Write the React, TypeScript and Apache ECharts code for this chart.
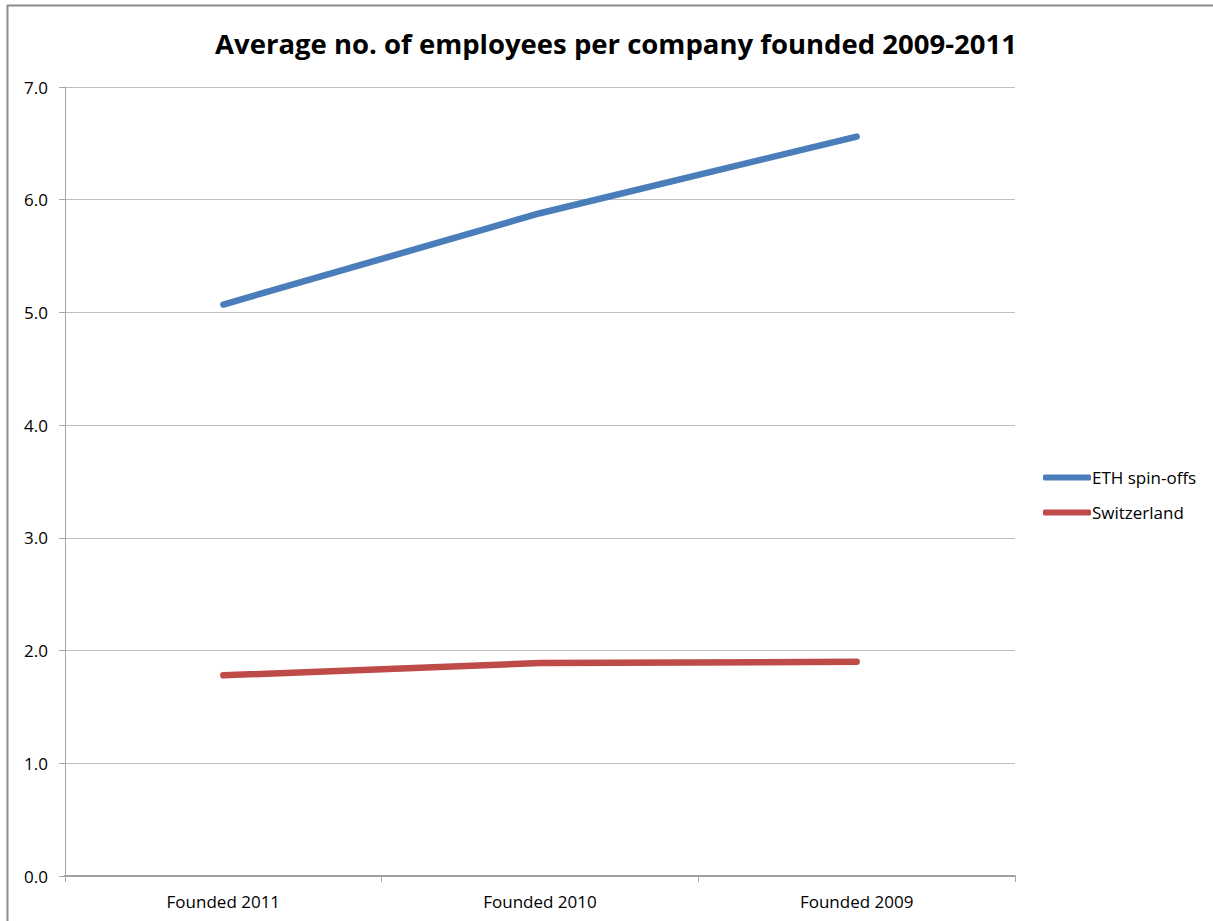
import React, { useEffect, useRef } from "react";
import * as echarts from "echarts";

const title = "Average no. of employees per company founded 2009-2011";
const categories = ["Founded 2011", "Founded 2010", "Founded 2009"];
const ethSpinOffs = [5.07, 5.88, 6.56];
const switzerland = [1.78, 1.89, 1.9];
const seriesNames = ["ETH spin-offs", "Switzerland"];

export default function App() {
  const ref = useRef<HTMLDivElement>(null);
  useEffect(() => {
    if (!ref.current) return;
    const chart = echarts.init(ref.current, undefined, { renderer: "svg" });
    const font = "'Open Sans', 'Noto Sans', sans-serif";
    chart.setOption({
      animation: false,
      backgroundColor: "#ffffff",
      title: {
        text: title,
        left: 611,
        top: 24,
        textAlign: "center",
        textStyle: { fontFamily: font, fontSize: 27.5, fontWeight: "bold", color: "#000" },
      },
      graphic: [
        { type: "line", shape: { x1: 7, y1: 5.5, x2: 1213, y2: 5.5 }, style: { stroke: "#8c8c8c", lineWidth: 2 } },
        { type: "line", shape: { x1: 7.5, y1: 5, x2: 7.5, y2: 921 }, style: { stroke: "#8c8c8c", lineWidth: 2 } },
      ],
      legend: {
        orient: "vertical",
        left: 1038,
        top: 464,
        icon: "roundRect",
        itemWidth: 48,
        itemHeight: 6,
        itemGap: 18,
        textStyle: { fontFamily: font, fontSize: 17, color: "#000", padding: [0, 0, 0, -4] },
        data: seriesNames,
      },
      grid: { left: 65, right: 198, top: 87, bottom: 45, containLabel: false },
      xAxis: {
        type: "category",
        data: categories,
        boundaryGap: true,
        axisLine: { lineStyle: { color: "#a0a0a0", width: 2 } },
        axisTick: { show: true, length: 6, lineStyle: { color: "#a6a6a6" } },
        axisLabel: { fontFamily: font, fontSize: 17, color: "#000", margin: 17 },
      },
      yAxis: {
        type: "value",
        min: 0,
        max: 7,
        interval: 1,
        axisLine: { show: true, lineStyle: { color: "#a6a6a6", width: 1 } },
        axisTick: { show: true, length: 6, lineStyle: { color: "#a6a6a6" } },
        axisLabel: { fontFamily: font, fontSize: 17, color: "#000", margin: 17, formatter: (v: number) => v.toFixed(1) },
        splitLine: { lineStyle: { color: "#bfbfbf", width: 1 } },
      },
      series: [
        {
          name: seriesNames[0],
          type: "line",
          data: ethSpinOffs,
          symbol: "none",
          color: "#4a7ebb",
          lineStyle: { width: 6.5, cap: "round", join: "round" },
        },
        {
          name: seriesNames[1],
          type: "line",
          data: switzerland,
          symbol: "none",
          color: "#be4b48",
          lineStyle: { width: 6.5, cap: "round", join: "round" },
        },
      ],
    });
    return () => chart.dispose();
  }, []);
  return (
    <div
      ref={ref}
      style={{ position: "fixed", left: 0, top: 0, width: 1213, height: 921 }}
    />
  );
}
